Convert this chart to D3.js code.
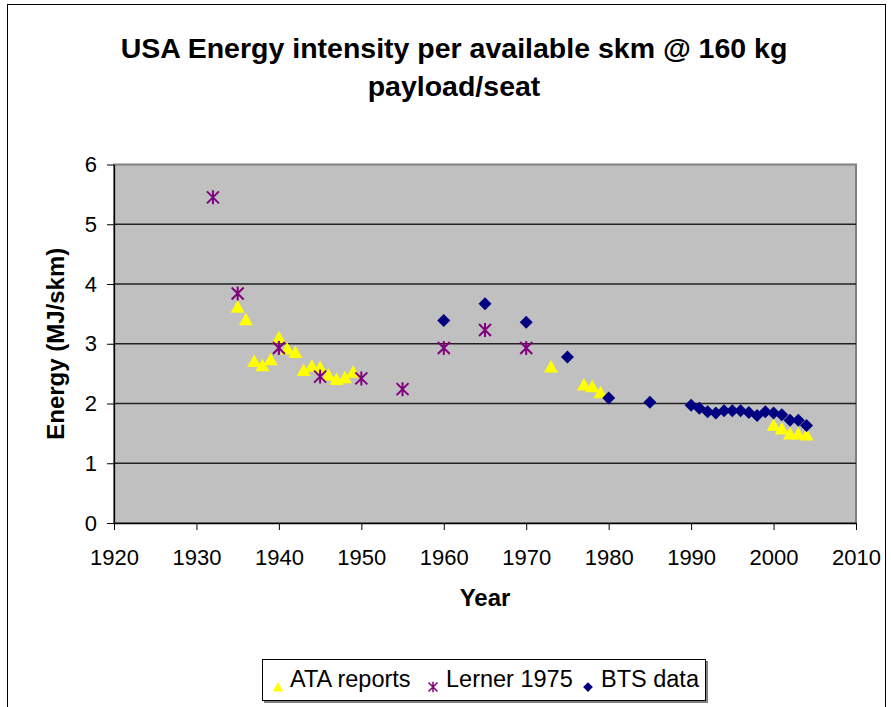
<!DOCTYPE html>
<html>
<head>
<meta charset="utf-8">
<script src="https://cdn.jsdelivr.net/npm/d3@7"></script>
<style>
  body { margin: 0; background: #fff; }
  svg { font-family: "Liberation Sans", Arial, sans-serif; }
</style>
</head>
<body>
<div id="chart"></div>
<script>
// ATA reports (yellow triangles)
const ataYears  = [1935, 1936, 1937, 1938, 1939, 1940, 1941, 1942, 1943, 1944, 1945, 1946, 1947, 1948, 1949,
                   1973, 1977, 1978, 1979, 2000, 2001, 2002, 2003, 2004];
const ataValues = [3.62, 3.41, 2.71, 2.64, 2.74, 3.11, 2.92, 2.86, 2.56, 2.63, 2.61, 2.48, 2.41, 2.44, 2.53,
                   2.62, 2.32, 2.29, 2.19, 1.64, 1.58, 1.50, 1.50, 1.48];

// Lerner 1975 (purple asterisks)
const lernerYears  = [1932, 1935, 1940, 1945, 1950, 1955, 1960, 1965, 1970];
const lernerValues = [5.45, 3.84, 2.93, 2.45, 2.42, 2.24, 2.93, 3.23, 2.93];

// BTS data (navy diamonds)
const btsYears  = [1960, 1965, 1970, 1975, 1980, 1985, 1990, 1991, 1992, 1993, 1994, 1995, 1996, 1997,
                   1998, 1999, 2000, 2001, 2002, 2003, 2004];
const btsValues = [3.39, 3.67, 3.36, 2.78, 2.09, 2.02, 1.97, 1.92, 1.86, 1.84, 1.88, 1.88, 1.88, 1.85,
                   1.80, 1.86, 1.84, 1.81, 1.72, 1.72, 1.63];

const xTicks = [1920, 1930, 1940, 1950, 1960, 1970, 1980, 1990, 2000, 2010];
const yTicks = [0, 1, 2, 3, 4, 5, 6];

const W = 891, H = 707;
const margin = {top: 164.5, right: 35, bottom: 184, left: 114};
const width = W - margin.left - margin.right;
const height = H - margin.top - margin.bottom;

const svg = d3.select("#chart").append("svg")
    .attr("width", W)
    .attr("height", H);

// chart area border
svg.append("rect")
    .attr("x", 7.5).attr("y", 4.5)
    .attr("width", 878).attr("height", 720)
    .attr("fill", "none").attr("stroke", "#000").attr("stroke-width", 1);

// title
svg.append("text")
    .attr("x", 454).attr("y", 58)
    .attr("text-anchor", "middle")
    .style("font-size", "28.5px").style("font-weight", "bold")
    .text("USA Energy intensity per available skm @ 160 kg");
svg.append("text")
    .attr("x", 454).attr("y", 96)
    .attr("text-anchor", "middle")
    .style("font-size", "28.5px").style("font-weight", "bold")
    .text("payload/seat");

const g = svg.append("g")
    .attr("transform", `translate(${margin.left},${margin.top})`);

const x = d3.scaleLinear().domain([1920, 2010]).range([0, width]);
const y = d3.scaleLinear().domain([0, 6]).range([height, 0]);

// plot area
g.append("rect")
    .attr("width", width).attr("height", height)
    .attr("fill", "#c0c0c0")
    .attr("stroke", "#808080").attr("stroke-width", 2);

// gridlines
g.selectAll(".grid")
    .data(yTicks.filter(d => d > 0 && d < 6))
    .enter().append("line")
    .attr("x1", 0).attr("x2", width)
    .attr("y1", d => y(d)).attr("y2", d => y(d))
    .attr("stroke", "#222").attr("stroke-width", 1.3);

// axes
const xAxis = g.append("g")
    .attr("transform", `translate(0,${height})`)
    .call(d3.axisBottom(x).tickValues(xTicks).tickFormat(d3.format("d")).tickSizeInner(7).tickSizeOuter(0).tickPadding(19));
const yAxis = g.append("g")
    .call(d3.axisLeft(y).tickValues(yTicks).tickFormat(d3.format("d")).tickSizeInner(7).tickSizeOuter(0).tickPadding(10));

[xAxis, yAxis].forEach(a => {
    a.select(".domain").attr("stroke", "#000").attr("stroke-width", 1.3);
    a.selectAll(".tick line").attr("stroke", "#000");
    a.selectAll(".tick text").style("font-size", "22px").attr("fill", "#000")
        .style("font-family", "'Liberation Sans', Arial, sans-serif");
});

// axis titles
svg.append("text")
    .attr("x", margin.left + width / 2).attr("y", 606)
    .attr("text-anchor", "middle")
    .style("font-size", "24px").style("font-weight", "bold")
    .text("Year");
svg.append("text")
    .attr("transform", `translate(64,${margin.top + height / 2}) rotate(-90)`)
    .attr("text-anchor", "middle")
    .style("font-size", "24px").style("font-weight", "bold")
    .text("Energy (MJ/skm)");

// marker shapes
const triPath = "M0,-6.5L7,6L-7,6Z";
const diaPath = "M0,-6.5L6.5,0L0,6.5L-6.5,0Z";
const astPath = "M-6,-6L6,6M-6,6L6,-6M0,-7L0,7";

function addSeries(years, values, draw) {
    const data = years.map((yr, i) => ({year: yr, value: values[i]}));
    const sel = g.append("g").selectAll("path")
        .data(data).enter().append("path")
        .attr("transform", d => `translate(${x(d.year)},${y(d.value)})`);
    draw(sel);
}

addSeries(ataYears, ataValues, s => s.attr("d", triPath).attr("fill", "#ffff00"));
addSeries(lernerYears, lernerValues, s => s.attr("d", astPath).attr("fill", "none")
    .attr("stroke", "#800080").attr("stroke-width", 2));
addSeries(btsYears, btsValues, s => s.attr("d", diaPath).attr("fill", "#000080"));

// legend
const lg = svg.append("g").attr("transform", "translate(262,659)");
lg.append("rect").attr("x", 2).attr("y", 2).attr("width", 444).attr("height", 42).attr("fill", "#808080");
lg.append("rect").attr("x", 0.5).attr("y", 0.5).attr("width", 443).attr("height", 41)
    .attr("fill", "#fff").attr("stroke", "#000");

const legendItems = [
    {label: "ATA reports", sx: 16, tx: 28, shape: triPath, fill: "#ffff00", stroke: "none"},
    {label: "Lerner 1975", sx: 171, tx: 184, shape: astPath, fill: "none", stroke: "#800080"},
    {label: "BTS data", sx: 326, tx: 339, shape: diaPath, fill: "#000080", stroke: "none"}
];
legendItems.forEach(it => {
    lg.append("path")
        .attr("d", it.shape)
        .attr("transform", `translate(${it.sx},28) scale(0.75)`)
        .attr("fill", it.fill).attr("stroke", it.stroke).attr("stroke-width", 2);
    lg.append("text")
        .attr("x", it.tx).attr("y", 28)
        .style("font-size", "23.5px")
        .text(it.label);
});
</script>
</body>
</html>
